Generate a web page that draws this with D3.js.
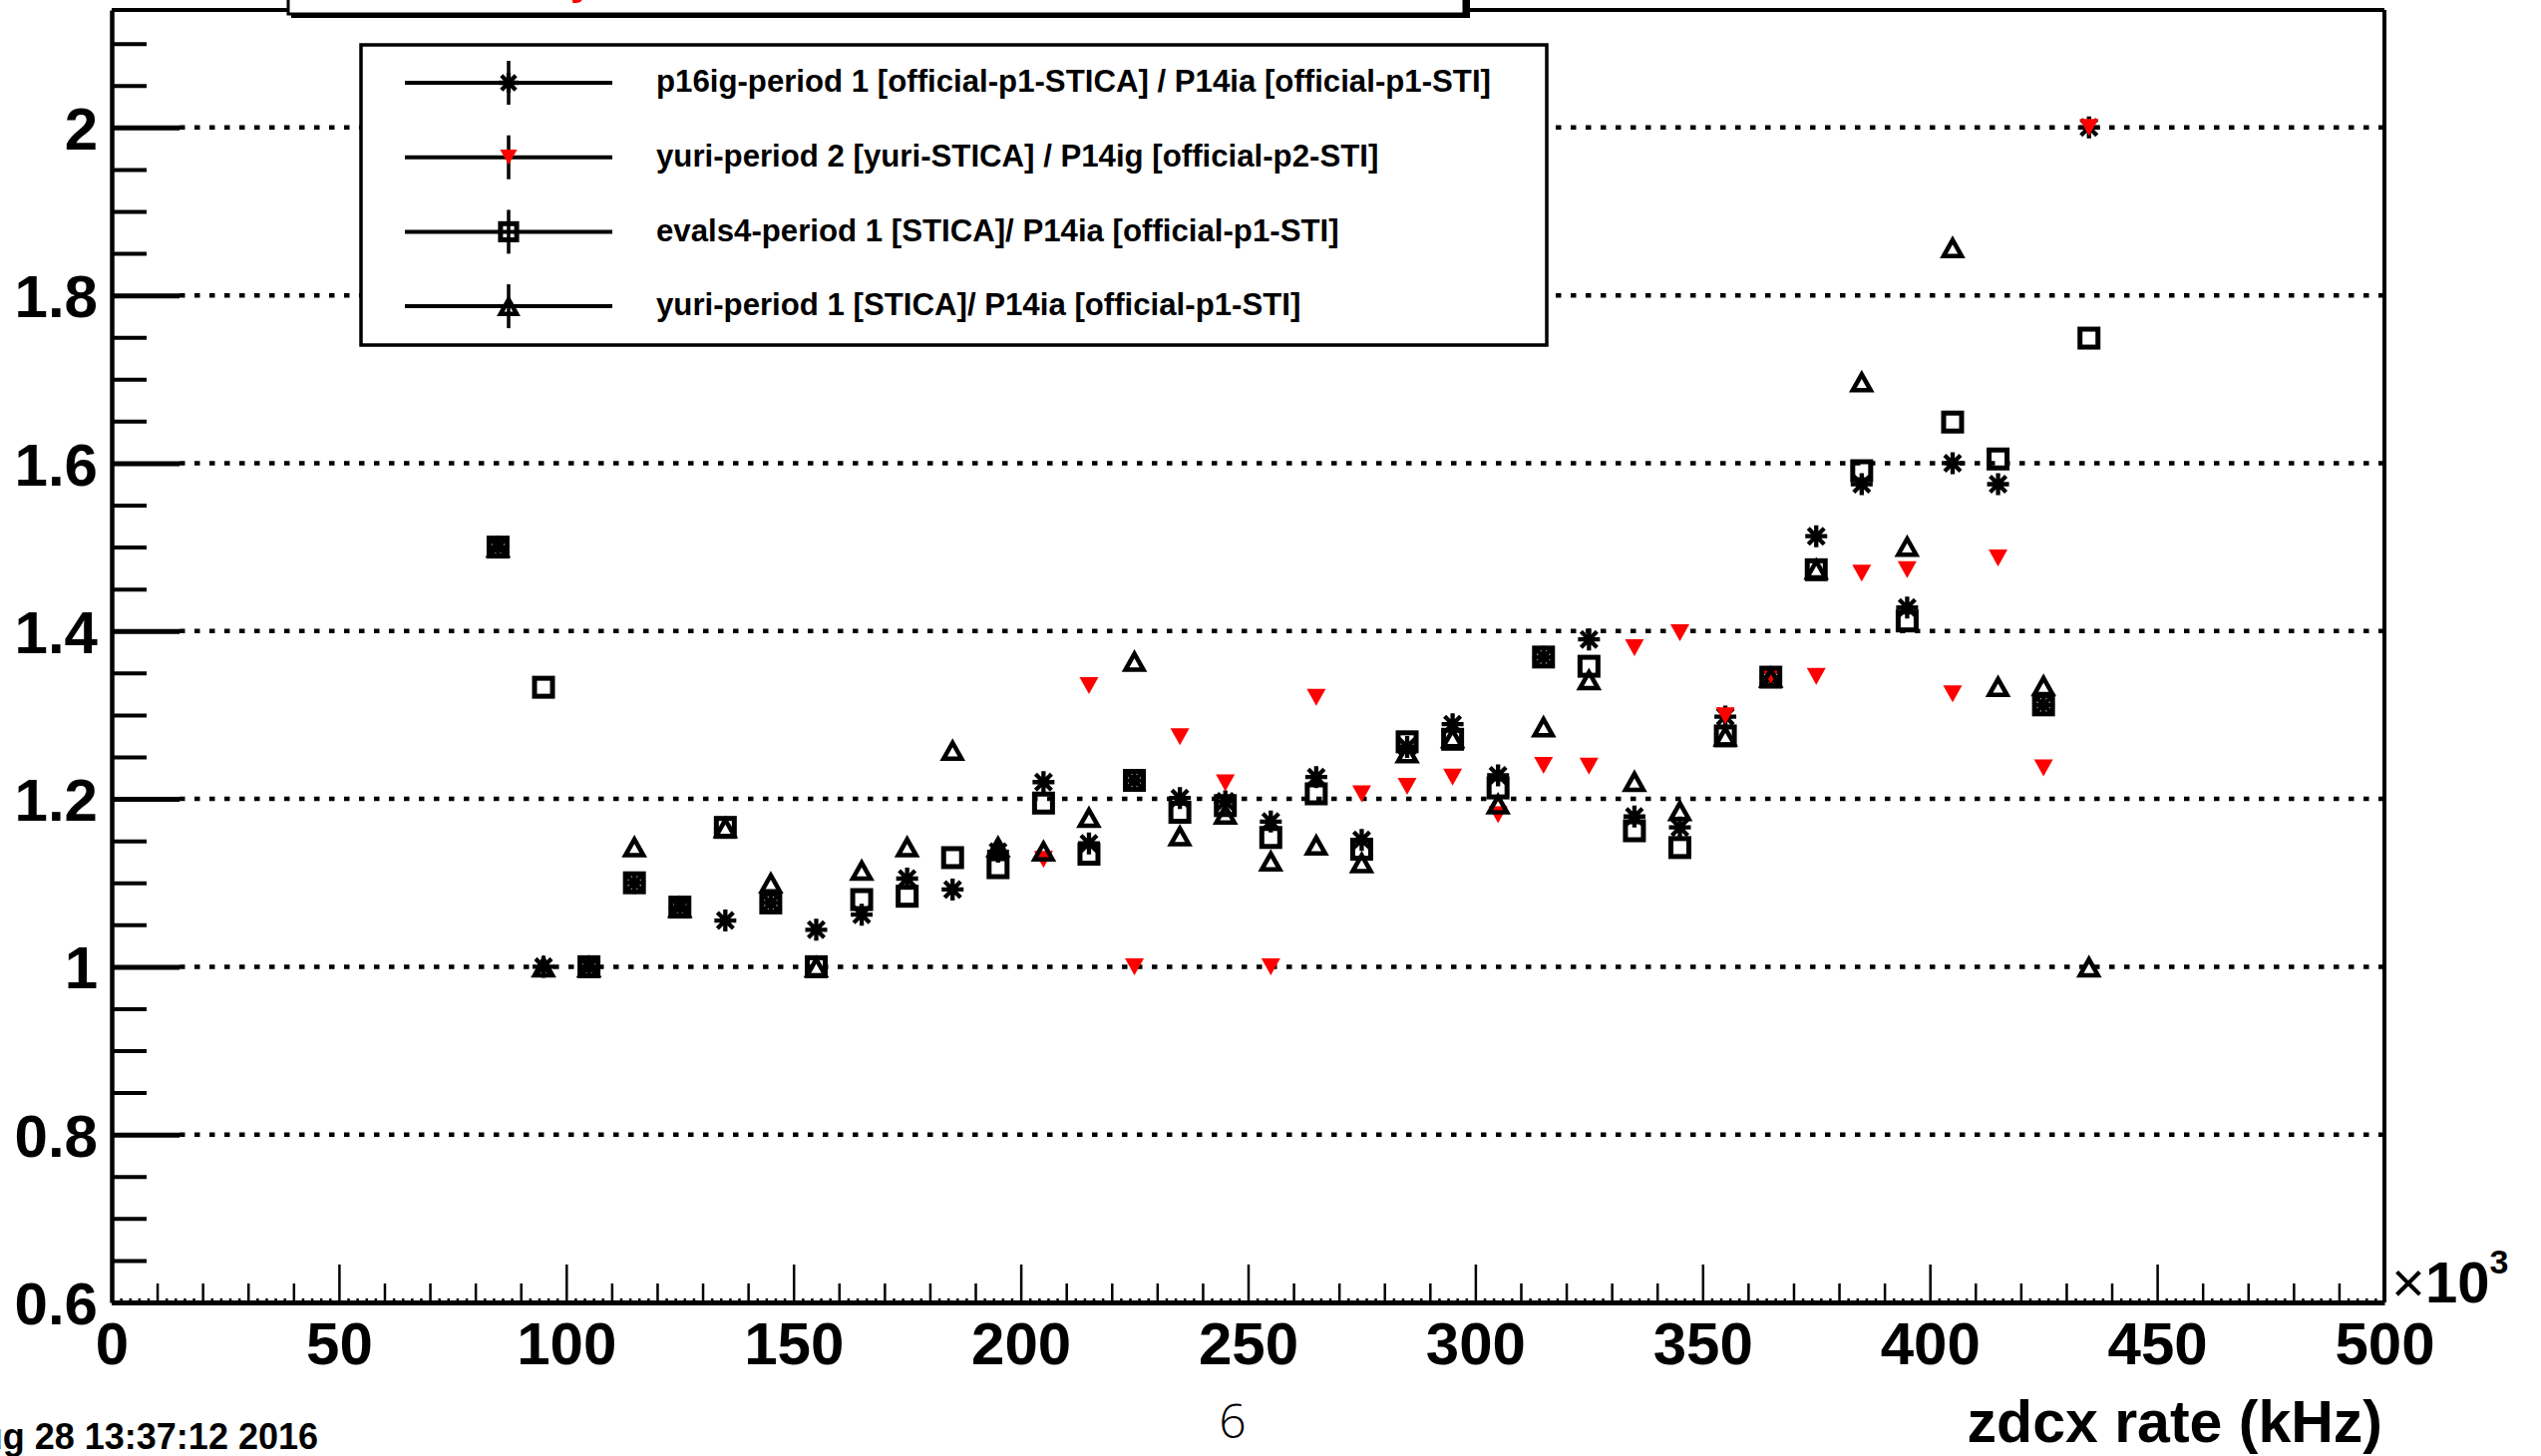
<!DOCTYPE html>
<html>
<head>
<meta charset="utf-8">
<script src="https://cdn.jsdelivr.net/npm/d3@7"></script>
<style>
  html, body { margin: 0; padding: 0; background: #ffffff; }
  svg { display: block; }
  text { font-family: "Liberation Sans", Arial, Helvetica, sans-serif; font-weight: bold; fill: #000; }
</style>
</head>
<body>
<svg id="chart" width="2548" height="1460"></svg>
<script>
// ---- data: ratio vs zdcx rate (x10^3 kHz bins) ----
const rateBins = [85, 95, 105, 115, 125, 135, 145, 155, 165, 175, 185, 195, 205, 215, 225, 235, 245, 255,
                  265, 275, 285, 295, 305, 315, 325, 335, 345, 355, 365, 375, 385, 395, 405, 415, 425, 435];

// p16ig-period 1 [official-p1-STICA] / P14ia [official-p1-STI]
const p16igP1 = [1.50, 1.00, 1.00, 1.100, 1.071, 1.055, 1.076, 1.044, 1.062, 1.105, 1.092, 1.137, 1.220, 1.147,
                 1.222, 1.201, 1.197, 1.173, 1.226, 1.151, 1.262, 1.289, 1.228, 1.369, 1.390, 1.179, 1.166, 1.298,
                 1.345, 1.513, 1.575, 1.428, 1.600, 1.575, 1.312, 2.000];

// yuri-period 2 [yuri-STICA] / P14ig [official-p2-STI]
const yuriP2Bins = [205, 215, 225, 235, 245, 255, 265, 275, 285, 295, 305, 315, 325, 335, 345, 355,
                    365, 375, 385, 395, 405, 415, 425, 435];
const yuriP2 = [1.128, 1.335, 1.000, 1.274, 1.219, 1.000, 1.321, 1.206, 1.215, 1.226, 1.181, 1.240, 1.239,
                1.380, 1.398, 1.299, 1.347, 1.346, 1.469, 1.473, 1.325, 1.487, 1.237, 2.000];

// evals4-period 1 [STICA]/ P14ia [official-p1-STI]
const evals4P1 = [1.50, 1.333, 1.00, 1.100, 1.071, 1.166, 1.076, 1.000, 1.080, 1.084, 1.130, 1.118, 1.195, 1.134,
                  1.222, 1.184, 1.192, 1.154, 1.206, 1.140, 1.268, 1.271, 1.213, 1.369, 1.358, 1.162, 1.142, 1.275,
                  1.345, 1.473, 1.591, 1.412, 1.649, 1.605, 1.312, 1.749];

// yuri-period 1 [STICA]/ P14ia [official-p1-STI]
const yuriP1 = [1.50, 1.00, 1.00, 1.143, 1.071, 1.166, 1.100, 1.000, 1.115, 1.143, 1.258, 1.143, 1.138, 1.178,
                1.364, 1.156, 1.182, 1.126, 1.145, 1.124, 1.255, 1.273, 1.194, 1.286, 1.342, 1.221, 1.186, 1.275,
                1.345, 1.474, 1.697, 1.501, 1.857, 1.334, 1.335, 1.000];

const legendLabels = [
  "p16ig-period 1 [official-p1-STICA] / P14ia [official-p1-STI]",
  "yuri-period 2 [yuri-STICA] / P14ig [official-p2-STI]",
  "evals4-period 1 [STICA]/ P14ia [official-p1-STI]",
  "yuri-period 1 [STICA]/ P14ia [official-p1-STI]"
];
const markerKinds = ["star", "tdown", "square", "tup"];

const yTicks = [0.6, 0.8, 1.0, 1.2, 1.4, 1.6, 1.8, 2.0];
const yTickLabels = ["0.6", "0.8", "1", "1.2", "1.4", "1.6", "1.8", "2"];
const xTicks = [0, 50, 100, 150, 200, 250, 300, 350, 400, 450, 500];
const xTickLabels = ["0", "50", "100", "150", "200", "250", "300", "350", "400", "450", "500"];
const xTitle = "zdcx rate (kHz)";
const dateStamp = "Sun Aug 28 13:37:12 2016";
const pageNumber = "6";

// ---- layout ----
const frame = { left: 112, right: 2391, top: 10, bottom: 1306 };
const svg = d3.select("#chart");

const x = d3.scaleLinear().domain([0, 500]).range([frame.left, frame.right]);
const y = d3.scaleLinear().domain([0.6, 2.14]).range([frame.bottom, frame.top]);

const series = [
  { bins: rateBins,   values: p16igP1,  kind: markerKinds[0] },
  { bins: yuriP2Bins, values: yuriP2,   kind: markerKinds[1] },
  { bins: rateBins,   values: evals4P1, kind: markerKinds[2] },
  { bins: rateBins,   values: yuriP1,   kind: markerKinds[3] }
];

// marker glyphs
function drawMarker(sel, kind, scale) {
  const k = scale || 1;
  if (kind === "star") {
    sel.append("path")
      .attr("d", "M-11,0H11M0,-11V11M-8,-8L8,8M-8,8L8,-8")
      .attr("transform", `scale(${k})`)
      .attr("fill", "none").attr("stroke", "#000").attr("stroke-width", 4.3 / k);
  } else if (kind === "tdown") {
    sel.append("path")
      .attr("d", "M-9.5,-8.5H9.5L0,8.5Z")
      .attr("transform", `scale(${k})`)
      .attr("fill", "#ff0000");
  } else if (kind === "square") {
    sel.append("rect")
      .attr("x", -9).attr("y", -9).attr("width", 18).attr("height", 18)
      .attr("transform", `scale(${k})`)
      .attr("fill", "none").attr("stroke", "#000").attr("stroke-width", 5 / k);
  } else if (kind === "tup") {
    sel.append("path")
      .attr("d", "M0,-7.5L9,8.5L-9,8.5Z")
      .attr("transform", `scale(${k})`)
      .attr("fill", "none").attr("stroke", "#000").attr("stroke-width", 4.5 / k)
      .attr("stroke-linejoin", "miter");
  }
}

// ---- dotted grid at the major y values ----
svg.append("g").selectAll("line")
  .data(yTicks.filter(v => v > 0.6))
  .join("line")
  .attr("x1", frame.left + 68).attr("x2", frame.right)
  .attr("y1", d => y(d)).attr("y2", d => y(d))
  .attr("stroke", "#000").attr("stroke-width", 4.5)
  .attr("stroke-dasharray", "5.5 9.5");

// ---- y axis: major, minor ticks ----
const yMinor = d3.range(13, 43).map(i => i * 0.05).filter(v => Math.abs(Math.round(v * 5) - v * 5) > 1e-6);

const yMinorAxis = svg.append("g")
  .attr("transform", `translate(${frame.left},0)`)
  .call(d3.axisLeft(y).tickValues(yMinor).tickSizeInner(-35).tickSizeOuter(0).tickFormat(""));
yMinorAxis.select(".domain").remove();
yMinorAxis.selectAll(".tick line").attr("stroke-width", 4);

const yAxis = svg.append("g")
  .attr("transform", `translate(${frame.left},0)`)
  .call(d3.axisLeft(y).tickValues(yTicks).tickFormat((d, i) => yTickLabels[i])
        .tickSizeInner(-68).tickSizeOuter(0).tickPadding(14));
yAxis.select(".domain").attr("stroke-width", 4.5);
yAxis.selectAll(".tick line").attr("stroke-width", 5);
yAxis.selectAll(".tick text")
  .attr("font-size", 60).attr("dy", "0.36em")
  .style("font-family", '"Liberation Sans", Arial, sans-serif').style("font-weight", "bold");

// ---- x axis: 50 / 10 / 2 divisions ----
const xSmall = d3.range(0, 251).map(i => i * 2).filter(v => v % 10 !== 0);
const xMedium = d3.range(0, 51).map(i => i * 10).filter(v => v % 50 !== 0);

const xSmallAxis = svg.append("g")
  .attr("transform", `translate(0,${frame.bottom})`)
  .call(d3.axisBottom(x).tickValues(xSmall).tickSizeInner(-4).tickSizeOuter(0).tickFormat(""));
xSmallAxis.select(".domain").remove();
xSmallAxis.selectAll(".tick line").attr("stroke-width", 2.5);

const xMediumAxis = svg.append("g")
  .attr("transform", `translate(0,${frame.bottom})`)
  .call(d3.axisBottom(x).tickValues(xMedium).tickSizeInner(-19).tickSizeOuter(0).tickFormat(""));
xMediumAxis.select(".domain").remove();
xMediumAxis.selectAll(".tick line").attr("stroke-width", 2.5);

const xAxis = svg.append("g")
  .attr("transform", `translate(0,${frame.bottom})`)
  .call(d3.axisBottom(x).tickValues(xTicks).tickFormat((d, i) => xTickLabels[i])
        .tickSizeInner(-38).tickSizeOuter(0).tickPadding(19));
xAxis.select(".domain").attr("stroke-width", 5);
xAxis.selectAll(".tick line").attr("stroke-width", 2.5);
xAxis.selectAll(".tick text")
  .attr("font-size", 60)
  .style("font-family", '"Liberation Sans", Arial, sans-serif').style("font-weight", "bold");

// right and top frame edges
svg.append("line")
  .attr("x1", frame.right).attr("x2", frame.right).attr("y1", frame.top).attr("y2", frame.bottom)
  .attr("stroke", "#000").attr("stroke-width", 4);
svg.append("line")
  .attr("x1", frame.left).attr("x2", frame.right).attr("y1", frame.top).attr("y2", frame.top)
  .attr("stroke", "#000").attr("stroke-width", 4);

// ---- data markers ----
const dataLayer = svg.append("g");
series.forEach(s => {
  s.bins.forEach((b, i) => {
    const g = dataLayer.append("g").attr("transform", `translate(${x(b)},${y(s.values[i])})`);
    drawMarker(g, s.kind, 1);
  });
});

// ---- legend ----
const legend = { x0: 362, y0: 45, x1: 1551, y1: 346, rowTop: 83, rowStep: 74.7 };
svg.append("rect")
  .attr("x", legend.x0).attr("y", legend.y0)
  .attr("width", legend.x1 - legend.x0).attr("height", legend.y1 - legend.y0)
  .attr("fill", "#fff").attr("stroke", "#000").attr("stroke-width", 3.5);

legendLabels.forEach((label, i) => {
  const cy = legend.rowTop + i * legend.rowStep;
  const row = svg.append("g").attr("transform", `translate(0,${cy})`);
  row.append("line").attr("x1", 406).attr("x2", 614).attr("y1", 0).attr("y2", 0)
    .attr("stroke", "#000").attr("stroke-width", 4);
  row.append("line").attr("x1", 510).attr("x2", 510).attr("y1", -22).attr("y2", 22)
    .attr("stroke", "#000").attr("stroke-width", 3.5);
  drawMarker(row.append("g").attr("transform", "translate(510,0)"), markerKinds[i], 0.9);
  row.append("text").attr("x", 658).attr("y", 0).attr("dy", "0.3em")
    .attr("font-size", 31.2).text(label);
});

// ---- title box along the top edge ----
svg.append("rect")
  .attr("x", 292).attr("y", -60).attr("width", 1182).attr("height", 78)
  .attr("fill", "#000");
svg.append("rect")
  .attr("x", 289).attr("y", -60).attr("width", 1179).attr("height", 74)
  .attr("fill", "#fff").attr("stroke", "#000").attr("stroke-width", 3);
svg.append("text")
  .attr("x", 572).attr("y", -6).attr("font-size", 42)
  .style("fill", "#ff0000").text("y");

// ---- axis title, exponent, footer text ----
const expo = svg.append("text").attr("x", 2398).attr("y", frame.bottom).attr("font-size", 58);
expo.append("tspan").style("font-weight", "normal").text("\u00d7");
expo.append("tspan").text("10");
expo.append("tspan").attr("font-size", 34).attr("dy", -29).text("3");

svg.append("text")
  .attr("x", frame.right - 2).attr("y", 1446)
  .attr("text-anchor", "end").attr("font-size", 59).text(xTitle);

svg.append("text")
  .attr("x", 319).attr("y", 1453)
  .attr("text-anchor", "end").attr("font-size", 36).text(dateStamp);

svg.append("text")
  .attr("x", 1236).attr("y", 1442)
  .attr("text-anchor", "middle").attr("font-size", 48)
  .style("font-weight", "300")
  .style("font-family", '"Open Sans", "Lato", "Noto Sans", sans-serif')
  .text(pageNumber);
</script>
</body>
</html>
